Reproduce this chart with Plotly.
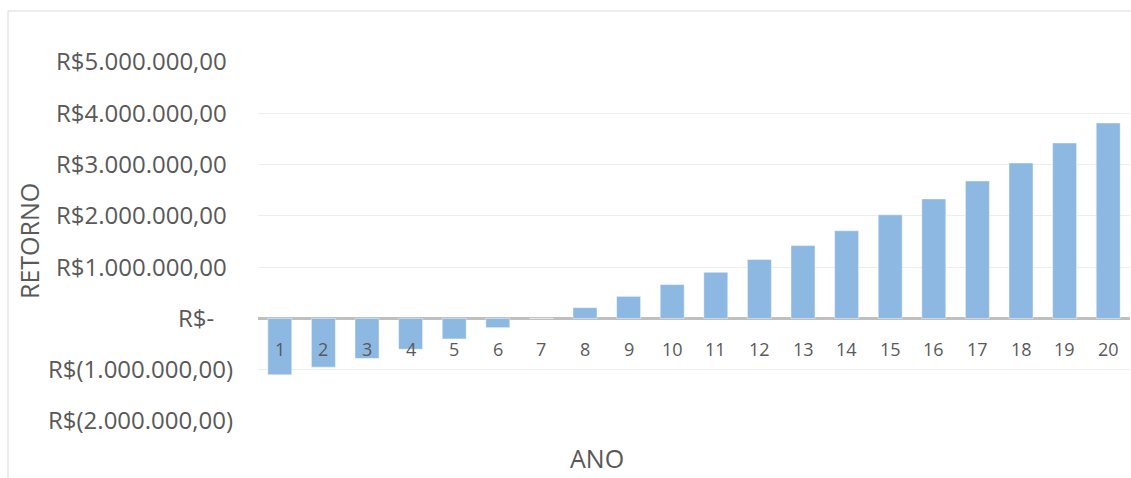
import plotly.graph_objects as go

anos = [str(i) for i in range(1, 21)]
retorno = [-1100000, -950000, -780000, -600000, -400000, -180000, 0,
           210000, 430000, 660000, 900000, 1150000, 1420000, 1710000,
           2020000, 2330000, 2680000, 3030000, 3420000, 3810000]
tick_vals = [-2000000, -1000000, 0, 1000000, 2000000, 3000000, 4000000, 5000000]
tick_text = ["R$(2.000.000,00)", "R$(1.000.000,00)", "R$-\u00a0\u00a0\u00a0",
             "R$1.000.000,00\u00a0", "R$2.000.000,00\u00a0", "R$3.000.000,00\u00a0",
             "R$4.000.000,00\u00a0", "R$5.000.000,00\u00a0"]

W, H = 1131, 478
L, R, T, B = 258, 1, 62, 57
pw, ph = W - L - R, H - T - B

FONT = "Open Sans"
GRAY = "#595959"

fig = go.Figure()
fig.add_trace(go.Bar(
    x=anos, y=retorno,
    marker=dict(color="rgb(140,184,226)", line=dict(color="rgba(255,255,255,0.45)", width=1)),
    hoverinfo="x+y",
))

for i, a in enumerate(anos):
    fig.add_annotation(x=i, y=0, text=a, showarrow=False, xref="x", yref="y",
                       yanchor="middle", yshift=-31,
                       font=dict(family=FONT, size=18, color=GRAY))

fig.add_annotation(x=(597 - L) / pw, y=(H - B - 458) / ph, xref="paper", yref="paper",
                   text="ANO", showarrow=False, xanchor="center", yanchor="middle",
                   font=dict(family=FONT, size=25, color=GRAY))

fig.add_annotation(x=(29 - L) / pw, y=(H - B - 241) / ph, xref="paper", yref="paper",
                   text="RETORNO", showarrow=False, textangle=-90,
                   xanchor="center", yanchor="middle",
                   font=dict(family=FONT, size=25, color=GRAY))

# chart border
fig.add_shape(type="rect", xref="paper", yref="paper",
              x0=(8 - L) / pw, x1=(W + 20 - L) / pw,
              y0=(H - B - (H + 20)) / ph, y1=(H - B - 11) / ph,
              line=dict(color="#D9D9D9", width=1), fillcolor="rgba(0,0,0,0)", layer="below")

fig.update_layout(
    width=W, height=H,
    margin=dict(l=L, r=R, t=T, b=B),
    paper_bgcolor="white", plot_bgcolor="white",
    showlegend=False,
    bargap=0.45,
    font=dict(family=FONT, color=GRAY),
    xaxis=dict(type="category", showticklabels=False, showgrid=False, zeroline=False,
               showline=False, ticks=""),
    yaxis=dict(range=[-2000000, 5000000], tickmode="array", tickvals=tick_vals,
               ticktext=tick_text, tickfont=dict(family=FONT, size=24, color=GRAY),
               showgrid=True, gridcolor="#EDEDED", gridwidth=1.3,
               zeroline=True, zerolinecolor="#BFBFBF", zerolinewidth=2.5,
               showline=False, ticks="", ticklabelstandoff=24),
)

fig.write_html("out.html", config={"displayModeBar": False})
with open("out.html", encoding="utf-8") as f:
    html = f.read()
html = html.replace("<head>", "<head><style>html,body{margin:0;padding:0;overflow:hidden}</style>", 1)
with open("out.html", "w", encoding="utf-8") as f:
    f.write(html)
